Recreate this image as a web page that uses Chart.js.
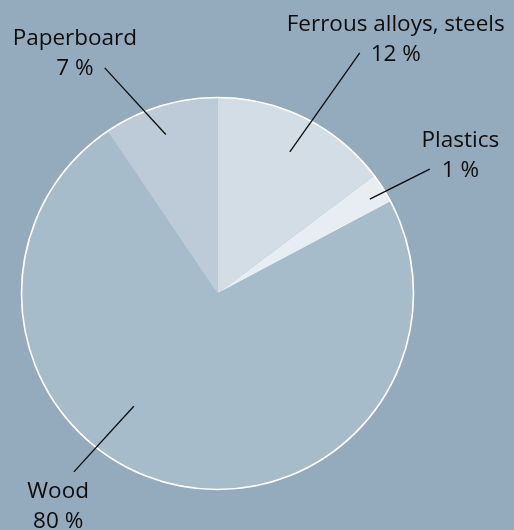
<!DOCTYPE html>
<html>
<head>
<meta charset="utf-8">
<script src="https://cdn.jsdelivr.net/npm/chart.js@4"></script>
<style>
  html, body { margin: 0; padding: 0; background: #93abbd; }
  #wrap { width: 514px; height: 530px; position: relative; }
</style>
</head>
<body>
<div id="wrap"><canvas id="c" width="514" height="530"></canvas></div>
<script>
// Data (clockwise from 12 o'clock), slice sizes as drawn in the picture (share of the circle, %)
const categories = ["Ferrous alloys, steels", "Plastics", "Wood", "Paperboard"];
const sliceShares = [14.75, 2.47, 73.3, 9.48];
const labelTexts = ["12 %", "1 %", "80 %", "7 %"];
const sliceColors = ["#d3dde5", "#e8edf3", "#a7bccb", "#bccbd7"];

// Leader-line / label placement, in units of the pie radius, relative to the pie centre
const labelLayout = [
  { inner: [0.368, -0.721], outer: [0.724, -1.224], text: [0.907, -1.335] },
  { inner: [0.775, -0.480], outer: [1.080, -0.633], text: [1.236, -0.745] },
  { inner: [-0.426, 0.574], outer: [-0.731, 0.908], text: [-0.811, 1.043] },
  { inner: [-0.263, -0.809], outer: [-0.574, -1.148], text: [-0.726, -1.264] }
];

const FONT = '22.5px "Open Sans", "Noto Sans", sans-serif';
const LINE_GAP = 29.5;

const labelsPlugin = {
  id: 'leaderLabels',
  afterDatasetsDraw(chart) {
    const meta = chart.getDatasetMeta(0);
    const arc0 = meta.data[0];
    const cx = arc0.x, cy = arc0.y, R = arc0.outerRadius;
    const ctx = chart.ctx;
    ctx.save();
    // white outer rim
    ctx.beginPath();
    ctx.arc(cx, cy, R - 0.5, 0, Math.PI * 2);
    ctx.strokeStyle = '#ffffff';
    ctx.lineWidth = 1.6;
    ctx.stroke();
    // leader lines + labels
    ctx.strokeStyle = '#0d0d0d';
    ctx.lineWidth = 1.3;
    ctx.fillStyle = '#0d0d0d';
    ctx.font = FONT;
    ctx.textAlign = 'center';
    ctx.textBaseline = 'alphabetic';
    meta.data.forEach((el, i) => {
      const L = labelLayout[i];
      ctx.beginPath();
      ctx.moveTo(cx + L.inner[0] * R, cy + L.inner[1] * R);
      ctx.lineTo(cx + L.outer[0] * R, cy + L.outer[1] * R);
      ctx.stroke();
      const tx = cx + L.text[0] * R, ty = cy + L.text[1] * R;
      ctx.fillText(chart.data.labels[i], tx, ty);
      ctx.fillText(labelTexts[i], tx, ty + LINE_GAP);
    });
    ctx.restore();
  }
};

new Chart(document.getElementById('c'), {
  type: 'pie',
  data: {
    labels: categories,
    datasets: [{
      data: sliceShares,
      backgroundColor: sliceColors,
      borderWidth: 0,
      hoverOffset: 0
    }]
  },
  options: {
    responsive: false,
    animation: false,
    radius: 196.5,
    layout: { padding: { left: 0, right: 79, top: 57, bottom: 0 } },
    plugins: { legend: { display: false }, tooltip: { enabled: false } },
    events: []
  },
  plugins: [labelsPlugin]
});
</script>
</body>
</html>
